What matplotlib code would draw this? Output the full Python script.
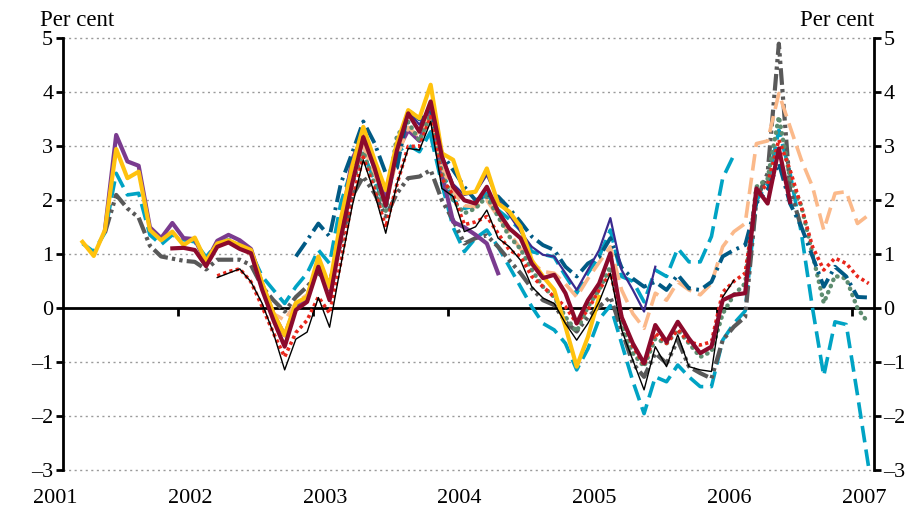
import numpy as np
import matplotlib
matplotlib.use("Agg")
import matplotlib.pyplot as plt
import matplotlib.transforms as mtransforms

plt.rcParams['font.family'] = ['Liberation Serif', 'DejaVu Serif']

# 月度数据：第 0 个月 = 2001 年 4 月
n_months = 71
x_month = 2001 + (3 + np.arange(n_months) + 0.5) / 12

gold_start = 0
gold = [1.23, 0.97, 1.45, 2.95, 2.41, 2.53, 1.45, 1.26, 1.42, 1.17, 1.31, 0.87,
        1.2, 1.26, 1.17, 1.08, 0.47, -0.09, -0.5, 0.1, 0.21, 0.96, 0.4, 1.65,
        2.62, 3.36, 2.75, 2.19, 3.06, 3.67, 3.52, 4.14, 2.87, 2.75, 2.13, 2.16,
        2.59, 1.94, 1.79, 1.51, 0.89, 0.59, 0.34, -0.34, -1.08, -0.53, 0.21]

purple_start = 2
purple = [1.45, 3.21, 2.72, 2.64, 1.5, 1.3, 1.58, 1.3, 1.28, 0.85,
          1.25, 1.36, 1.26, 1.1, 0.45, -0.1, -0.5, 0.05, 0.2, 0.85, 0.35, 1.5,
          2.75, 3.2, 2.6, 2.0, 2.9, 3.3, 3.1, 3.65, 2.5, 1.6, 1.5, 1.36,
          1.2, 0.65]

cyan1_start = 0
cyan1 = [1.2, 1.05, 1.4, 2.5, 2.1, 2.13, 1.36, 1.18, 1.36, 1.27, 1.23, 0.95,
         1.2, 1.27, 1.22, 1.04, 0.59, 0.34, 0.09, 0.4, 0.65, 1.08, 0.83, 1.95,
         2.6, 2.87, 2.37, 1.88, 2.9, 3.02, 2.9, 3.27, 2.56, 2.0, 1.85, 1.9,
         2.13, 1.82, 1.65, 1.45, 1.05, 1.0, 0.95, 0.6, 0.28, 0.65, 0.96, 1.45,
         0.59, 0.5, 0.12, 0.71, 0.59, 1.11, 0.86, 0.86, 1.33, 2.41, 2.84]

cyan2_start = 31
cyan2 = [3.2, 2.3, 1.5, 1.05, 1.3,
         1.45, 1.14, 0.77, 0.4, 0.03, -0.28, -0.4, -0.65, -1.14, -0.75, -0.2, 0.05,
         -0.65, -1.35, -1.95, -1.27, -1.36, -1.05, -1.27, -1.45, -1.45, -0.59, -0.28, -0.05,
         2.0, 2.3, 3.3, 2.5, 1.4, 0.0, -1.25, -0.25, -0.3, -1.6, -2.95]

grey_start = 2
grey = [1.4, 2.1, 1.85, 1.68, 1.16, 0.96, 0.92, 0.88, 0.86, 0.72,
        0.9, 0.9, 0.9, 0.8, 0.4, 0.15, -0.06, 0.21, 0.4, 0.65, 0.49, 1.2,
        2.07, 2.44, 2.13, 1.7, 2.13, 2.41, 2.44, 2.56, 2.0, 1.63, 1.2, 1.3,
        1.35, 1.14, 0.89, 0.65, 0.37, 0.15, 0.06, -0.25, -0.43, -0.16, 0.03, 0.21,
        -0.4, -1.02, -1.27, -0.83, -1.02, -0.59, -1.08, -1.2, -1.3, -0.59, -0.34, -0.16,
        2.0, 2.5, 4.9, 2.2, 1.5]

maroon_start = 8
maroon = [1.11, 1.12, 1.08, 0.78,
          1.14, 1.22, 1.1, 1.02, 0.34, -0.22, -0.71, -0.03, 0.12, 0.77, 0.15, 1.3,
          2.3, 3.17, 2.6, 1.9, 2.93, 3.61, 3.27, 3.83, 2.81, 2.25, 2.0, 1.94,
          2.25, 1.79, 1.48, 1.3, 0.83, 0.56, 0.62, 0.28, -0.28, 0.15, 0.46, 1.02,
          -0.16, -0.65, -1.02, -0.31, -0.62, -0.25, -0.56, -0.83, -0.71, 0.15, 0.25, 0.28,
          2.22, 1.94, 2.96, 1.97]

red_start = 12
red = [0.6, 0.68, 0.73, 0.49, 0.03, -0.46, -0.9, -0.45, -0.22, 0.21, -0.09, 0.85,
       2.0, 2.8, 2.2, 1.5, 2.3, 3.0, 3.0, 3.55, 2.4, 2.1, 1.55, 1.6,
       1.7, 1.39, 1.08, 0.96, 0.59, 0.4, 0.21, 0.03, -0.28, -0.03, 0.34, 0.65,
       -0.15, -0.7, -1.05, -0.46, -0.65, -0.4, -0.62, -0.68, -0.62, 0.3, 0.5, 0.65,
       2.1, 2.3, 3.12, 2.56, 1.88, 1.14, 0.71, 0.93, 0.83, 0.59, 0.46]

black_start = 12
black = [0.57, 0.65, 0.73, 0.49, 0.09, -0.46, -1.14, -0.57, -0.44, 0.2, -0.35, 0.8,
         1.88, 2.75, 2.13, 1.39, 2.31, 2.96, 2.93, 3.46, 2.22, 2.07, 1.42, 1.51,
         1.82, 1.3, 1.14, 0.89, 0.4, 0.19, 0.09, -0.28, -0.59, -0.28, 0.12, 0.65,
         -0.4, -0.96, -1.51, -0.71, -1.08, -0.49, -1.08, -1.14, -1.17, 0.21, 0.52]

navy_start = 19
navy = [0.96, 1.26, 1.57, 1.33, 2.31,
        2.87, 3.46, 3.06, 2.5, 2.6, 3.67, 3.5, 3.7, 2.87, 2.56, 2.25, 2.0,
        2.1, 2.07, 1.85, 1.6, 1.33, 1.17, 1.08, 0.77, 0.59, 0.83, 0.95, 1.3,
        0.75, 0.55, 0.4, 0.49, 0.34, 0.62, 0.37, 0.34, 0.49, 0.96, 1.08, 1.17,
        1.95, 2.2, 2.69, 1.94, 1.51, 0.96, 0.4, 0.77, 0.59, 0.21, 0.2]

peach_start = 12
peach = [1.17, 1.24, 1.12, 1.0, 0.38, -0.1, -0.22, 0.1, 0.25, 0.8, 0.3, 1.4,
         2.3, 3.0, 2.5, 1.9, 2.8, 3.35, 3.18, 3.6, 2.6, 2.15, 1.9, 1.88,
         2.0, 1.7, 1.4, 1.1, 0.85, 0.68, 0.65, 0.45, 0.21, 0.55, 0.85, 1.14,
         0.34, -0.1, -0.37, 0.28, 0.15, 0.49, 0.34, 0.25, 0.46, 1.14, 1.42, 1.57,
         3.05, 3.1, 3.98, 3.36, 2.75, 2.25, 1.45, 2.13, 2.16, 1.57, 1.73]

green_start = 23
green = [1.3,
         2.3, 2.9, 2.3, 1.8, 3.2, 3.45, 3.1, 3.6, 2.5, 2.0, 1.76, 1.85,
         2.07, 1.7, 1.33, 1.1, 0.71, 0.4, 0.21, -0.16, -0.43, 0.03, 0.34, 0.77,
         -0.3, -0.83, -1.08, -0.56, -0.65, -0.4, -0.65, -0.9, -0.8, -0.1, 0.25, 0.46,
         2.25, 2.4, 3.55, 2.4, 1.9, 1.0, 0.1, 0.6, 0.55, 0.0, -0.28]

indigo_start = 29
indigo = [3.65, 3.4, 3.75, 2.85, 2.3, 2.1, 2.15,
          2.47, 2.0, 1.73, 1.42, 1.14, 0.99, 0.96, 0.65, 0.34, 0.71, 1.08, 1.67,
          0.71, 0.34, -0.06, 0.77]

year_ticks = [2002, 2003, 2004, 2005, 2006, 2007]
year_labels = ['2001', '2002', '2003', '2004', '2005', '2006', '2007']
y_ticks = [-3, -2, -1, 0, 1, 2, 3, 4, 5]
y_labels = ['–3', '–2', '–1', '0', '1', '2', '3', '4', '5']


def seg(start, vals):
    return x_month[start:start + len(vals)], vals


fig = plt.figure(figsize=(9.09, 5.12), dpi=100)
ax = fig.add_axes([0.0693, 0.0814, 0.892, 0.8438])
ax.set_xlim(2001.147, 2007.163)
ax.set_ylim(-3, 5)

# 网格线
for v in y_ticks:
    if v != 0:
        ax.axhline(v, color='#9a9a9a', lw=1, ls=(0, (1.5, 2.5)), zorder=0, clip_on=False)

dash = (4.6, 2.0)
ax.plot(*seg(cyan2_start, cyan2), color='#00A3C4', lw=2.6, dashes=dash, zorder=2)
ax.plot(*seg(cyan1_start, cyan1), color='#00A3C4', lw=2.6, dashes=dash, zorder=2)
ax.plot(*seg(grey_start, grey), color='#595959', lw=3.0,
        dashes=(4.0, 1.0, 0.8, 1.0, 0.8, 1.0), zorder=3)
ax.plot(*seg(purple_start, purple), color='#7A3B8F', lw=3.0, zorder=3)
ax.plot(*seg(peach_start, peach), color='#FBB98A', lw=2.6, dashes=dash, zorder=3)
ax.plot(*seg(green_start, green), color='#5E8D70', lw=3.2, dashes=(0.1, 1.4),
        dash_capstyle='round', zorder=4)
ax.plot(*seg(navy_start, navy), color='#005A85', lw=2.8,
        dashes=(4.4, 1.4, 0.7, 1.4), zorder=4)
ax.plot(*seg(red_start, red), color='#E8261C', lw=2.6, dashes=(0.9, 0.9), zorder=5)
ax.plot(*seg(indigo_start, indigo), color='#3A2A8E', lw=1.6, zorder=5)
ax.plot(*seg(gold_start, gold), color='#FFC20E', lw=3.0, zorder=5)
ax.plot(*seg(black_start, black), color='black', lw=1.0, zorder=6)
ax.plot(*seg(maroon_start, maroon), color='#8C0A2C', lw=3.0, zorder=7)

# 坐标轴
ax.spines['top'].set_visible(False)
ax.spines['bottom'].set_position(('data', 0))
ax.spines['bottom'].set_linewidth(2)
ax.spines['bottom'].set_zorder(1)
ax.spines['left'].set_linewidth(2)
ax.spines['right'].set_linewidth(2)

ax.set_xticks(year_ticks)
ax.set_xticklabels([])
ax.tick_params(axis='x', direction='out', length=6, width=2)
ax.set_yticks(y_ticks)
ax.set_yticklabels(y_labels)
ax.tick_params(axis='y', direction='out', length=5, width=2, labelsize=16,
               left=True, right=True, labelleft=True, labelright=True, pad=2)

trans = mtransforms.blended_transform_factory(ax.transData, ax.transAxes)
for i, lab in enumerate(year_labels):
    ax.text(2001 + i + 0.09, -0.065, lab, transform=trans, ha='center',
            va='center', fontsize=16, clip_on=False)

fig.text(40 / 909, 1 - 20 / 512, 'Per cent', ha='left', va='center', fontsize=16.5)
fig.text(874 / 909, 1 - 20 / 512, 'Per cent', ha='right', va='center', fontsize=16.5)

fig.savefig('out.png', dpi=100)
